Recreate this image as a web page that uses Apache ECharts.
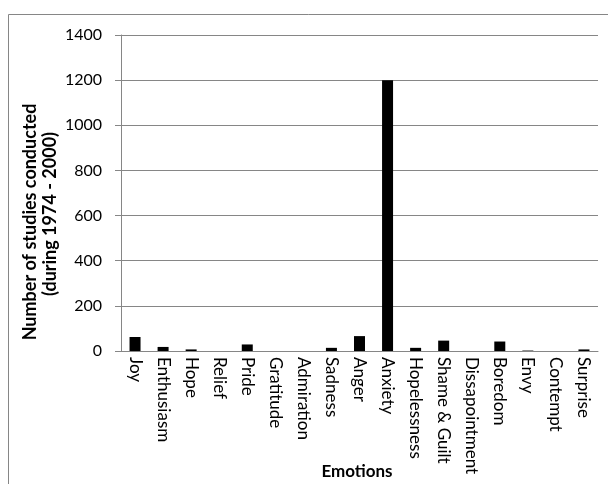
<!DOCTYPE html>
<html>
<head>
<meta charset="utf-8">
<script src="https://cdn.jsdelivr.net/npm/echarts@6/dist/echarts.min.js"></script>
<style>
html,body{margin:0;padding:0;background:#fff;}
#c{width:608px;height:484px;}
</style>
</head>
<body>
<div id="c"></div>
<script>
const categories = ["Joy","Enthusiasm","Hope","Relief","Pride","Gratitude","Admiration","Sadness","Anger","Anxiety","Hopelessness","Shame & Guilt","Dissapointment","Boredom","Envy","Contempt","Surprise"];
const studies = [62, 18, 7, 0, 29, 0, 0, 14, 66, 1200, 14, 46, 0, 42, 2, 0, 7];
const yTicks = {min: 0, max: 1400, interval: 200};

const FONT = 'Lato';
const chart = echarts.init(document.getElementById('c'));
chart.setOption({
  animation: false,
  backgroundColor: '#fff',
  grid: {left: 121, right: 10, top: 35, bottom: 133, containLabel: false},
  xAxis: {
    type: 'category',
    data: categories,
    axisLine: {lineStyle: {color: '#868686', width: 1}},
    axisTick: {show: false},
    axisLabel: {rotate: -90, interval: 0, margin: 6, color: '#000', fontFamily: FONT, fontSize: 17}
  },
  yAxis: {
    type: 'value',
    min: yTicks.min, max: yTicks.max, interval: yTicks.interval,
    axisLine: {show: true, lineStyle: {color: '#868686', width: 1}},
    axisTick: {show: true, length: 6, lineStyle: {color: '#868686'}},
    splitLine: {lineStyle: {color: '#868686', width: 1}},
    axisLabel: {margin: 19, color: '#000', fontFamily: FONT, fontSize: 16, formatter: v => String(v)}
  },
  series: [{
    type: 'bar',
    data: studies,
    barWidth: 11,
    itemStyle: {color: '#000'}
  }],
  graphic: [
    {type: 'rect', shape: {x: 8.5, y: 14.5, width: 700, height: 600}, style: {fill: 'none', stroke: '#868686', lineWidth: 1}, silent: true},
    {type: 'text', x: 30, y: 222, rotation: Math.PI/2, style: {text: 'Number of studies conducted', font: 'bold 18px ' + FONT, fill: '#000', textAlign: 'center', textVerticalAlign: 'middle'}},
    {type: 'text', x: 50, y: 214, rotation: Math.PI/2, style: {text: '(during 1974 - 2000)', font: 'bold 18px ' + FONT, fill: '#000', textAlign: 'center', textVerticalAlign: 'middle'}},
    {type: 'text', x: 357, y: 472, style: {text: 'Emotions', font: 'bold 17px ' + FONT, fill: '#000', textAlign: 'center', textVerticalAlign: 'middle'}}
  ]
});
</script>
</body>
</html>
